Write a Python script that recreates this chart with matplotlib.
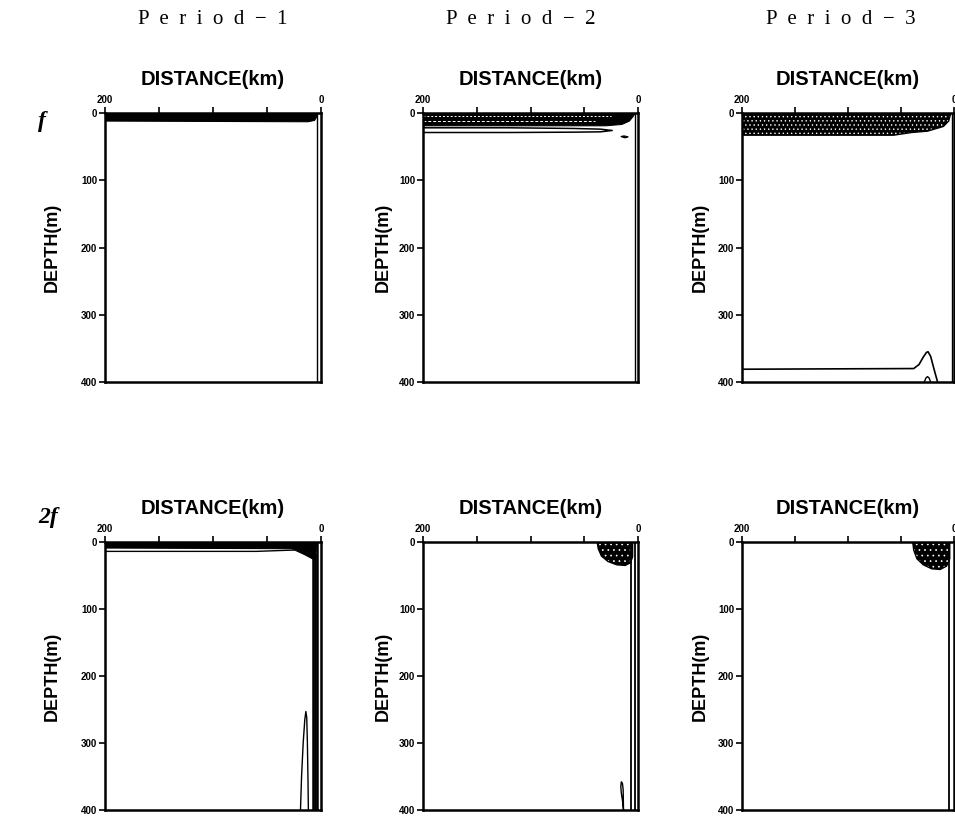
import matplotlib
matplotlib.use('Agg')
import matplotlib.pyplot as plt

plt.rcParams['hatch.linewidth'] = 0.5

W, H = 955, 818

periods = ['P  e  r  i  o  d  −  1', 'P  e  r  i  o  d  −  2', 'P  e  r  i  o  d  −  3']
row_names = ['f', '2f']
x_ticks = [200, 150, 100, 50, 0]
x_ticklabels = ['200', '', '', '', '0']
y_ticks = [0, 100, 200, 300, 400]

# ---- contours: distance (km), depth (m) ----
# f , Period-1
f1_band_x = [200, 3, 4, 6, 12, 200]
f1_band_z = [0, 0, 6, 11, 13, 12]
f1_coast_x = [3.7, 3.7]
f1_coast_z = [0, 400]

# f , Period-2
f2_band_x = [200, 3, 4, 8, 15, 30, 200]
f2_band_z = [0, 0, 4, 12, 17, 19, 19]
f2_dot1_x = [200, 25]
f2_dot1_z = [5, 5]
f2_dot2_x = [200, 40]
f2_dot2_z = [12, 12]
f2_thin_x = [200, 120, 60, 35, 24, 35, 60, 120, 200]
f2_thin_z = [22, 22, 23, 24, 26, 28, 28.5, 29, 29]
f2_dash_x = [16, 13, 9, 12, 16]
f2_dash_z = [35, 34, 35.5, 37, 35]
f2_coast_x = [2.5, 2.5]
f2_coast_z = [0, 400]

# f , Period-3
f3_band_x = [200, 3, 5, 10, 25, 40, 57, 200]
f3_band_z = [0, 0, 12, 20, 27, 29, 33, 33]
f3_deep_x = [200, 38, 33, 29, 26, 24.5, 22, 19, 15.5]
f3_deep_z = [381, 380, 374, 363, 356, 355, 362, 380, 400]
f3_arc_x = [28, 26.5, 25, 23.5, 22]
f3_arc_z = [400, 394, 392, 394, 400]
f3_coast_x = [2, 2]
f3_coast_z = [0, 400]

# 2f , Period-1
g1_band_x = [200, 4, 5, 8, 15, 27, 200]
g1_band_z = [0, 0, 27, 25, 19, 10, 9]
g1_line_x = [200, 60, 25]
g1_line_z = [14, 14, 12]
g1_wall_x = [7.5, 5.5, 3.5]
g1_wall_top = [22, 20, 0]
g1_loop_x = [19, 18, 16.5, 15, 14, 13.2, 12.6, 12, 11.7]
g1_loop_z = [400, 350, 300, 265, 253, 262, 300, 360, 400]

# 2f , Period-2
g2_blob_x = [38, 37, 34, 28, 20, 12, 7, 5, 5]
g2_blob_z = [0, 10, 21, 29, 34, 35, 31, 22, 0]
g2_wall_x = [6.5, 2.8]
g2_drop_x = [13.5, 14.5, 15.5, 16, 15.5, 14.5, 13.8, 13.5]
g2_drop_z = [400, 385, 375, 365, 358, 360, 370, 400]

# 2f , Period-3
g3_blob_x = [39, 38, 35, 29, 21, 13, 7, 4, 4]
g3_blob_z = [0, 12, 25, 34, 40, 41, 36, 25, 0]
g3_wall_x = [4.5]

# ---- layout (pixels of the 955x818 picture) ----
col_left = [105, 423, 742]
col_right = [321, 638, 954]
row_top = [113, 542]
row_bottom = [382, 810]
ylab_off = [-53, -40, -42]
period_x = [213, 521, 841]


def solid(ax, x, z):
    ax.fill(x, z, facecolor='black', edgecolor='black', lw=0.8)


def stipple(ax, x, z, pat='...'):
    ax.fill(x, z, facecolor='black', edgecolor='white', hatch=pat, lw=0)
    ax.plot(x + x[:1], z + z[:1], color='black', lw=1.0)


def line(ax, x, z, lw=1.0, **kw):
    ax.plot(x, z, color='black', lw=lw, **kw)


fig = plt.figure(figsize=(W / 100, H / 100), dpi=100)

axes = {}
for r in range(2):
    for c in range(3):
        rect = [col_left[c] / W, 1 - row_bottom[r] / H,
                (col_right[c] - col_left[c]) / W, (row_bottom[r] - row_top[r]) / H]
        ax = fig.add_axes(rect)
        ax.set_xlim(200, 0)
        ax.set_ylim(400, 0)
        ax.xaxis.tick_top()
        ax.set_xticks(x_ticks)
        ax.set_xticklabels(x_ticklabels)
        ax.set_yticks(y_ticks)
        ax.tick_params(direction='out', length=4, width=1.2, pad=1.5,
                       labelsize=7)
        for lab in ax.get_xticklabels() + ax.get_yticklabels():
            lab.set_fontweight('bold')
            lab.set_family('Liberation Sans')
        for s in ax.spines.values():
            s.set_linewidth(1.8)
        ax.annotate('DISTANCE(km)', xy=(0.5, 1), xycoords='axes fraction',
                    xytext=(0, 24), textcoords='offset pixels',
                    ha='center', va='bottom', fontsize=14.5, fontweight='bold',
                    family='Liberation Sans')
        ax.annotate('DEPTH(m)', xy=(0, 0.5), xycoords='axes fraction',
                    xytext=(ylab_off[c], 0), textcoords='offset pixels',
                    ha='center', va='center', rotation=90, fontsize=13,
                    fontweight='bold',
                    family=['Liberation Sans Narrow', 'Liberation Sans'])
        axes[(r, c)] = ax

# f row
ax = axes[(0, 0)]
solid(ax, f1_band_x, f1_band_z)
line(ax, f1_coast_x, f1_coast_z)

ax = axes[(0, 1)]
solid(ax, f2_band_x, f2_band_z)
ax.plot(f2_dot1_x, f2_dot1_z, color='white', lw=0.7, ls=(0, (2, 2)))
ax.plot(f2_dot2_x, f2_dot2_z, color='white', lw=0.7, ls=(0, (3, 2)))
line(ax, f2_thin_x, f2_thin_z, lw=1.1)
solid(ax, f2_dash_x, f2_dash_z)
line(ax, f2_coast_x, f2_coast_z)

ax = axes[(0, 2)]
stipple(ax, f3_band_x, f3_band_z, '....')
line(ax, f3_deep_x, f3_deep_z, lw=1.2)
line(ax, f3_arc_x, f3_arc_z)
line(ax, f3_coast_x, f3_coast_z)

# 2f row
ax = axes[(1, 0)]
solid(ax, g1_band_x, g1_band_z)
line(ax, g1_line_x, g1_line_z)
for xw, zt in zip(g1_wall_x, g1_wall_top):
    line(ax, [xw, xw], [zt, 400], lw=1.8)
line(ax, g1_loop_x, g1_loop_z)

ax = axes[(1, 1)]
stipple(ax, g2_blob_x, g2_blob_z, '...')
for xw in g2_wall_x:
    line(ax, [xw, xw], [0, 400], lw=1.3)
line(ax, g2_drop_x, g2_drop_z)

ax = axes[(1, 2)]
stipple(ax, g3_blob_x, g3_blob_z, '...')
for xw in g3_wall_x:
    line(ax, [xw, xw], [0, 400], lw=1.3)

# column and row headings
for c in range(3):
    fig.text(period_x[c] / W, 1 - 20 / H, periods[c], ha='center', va='center',
             fontsize=15, family='Liberation Serif')
fig.text(42 / W, 1 - 122 / H, row_names[0], ha='center', va='center',
         fontsize=17, family='Liberation Serif', style='italic', fontweight='bold')
fig.text(48 / W, 1 - 518 / H, row_names[1], ha='center', va='center',
         fontsize=17, family='Liberation Serif', style='italic', fontweight='bold')

fig.savefig('out.png', dpi=100)
